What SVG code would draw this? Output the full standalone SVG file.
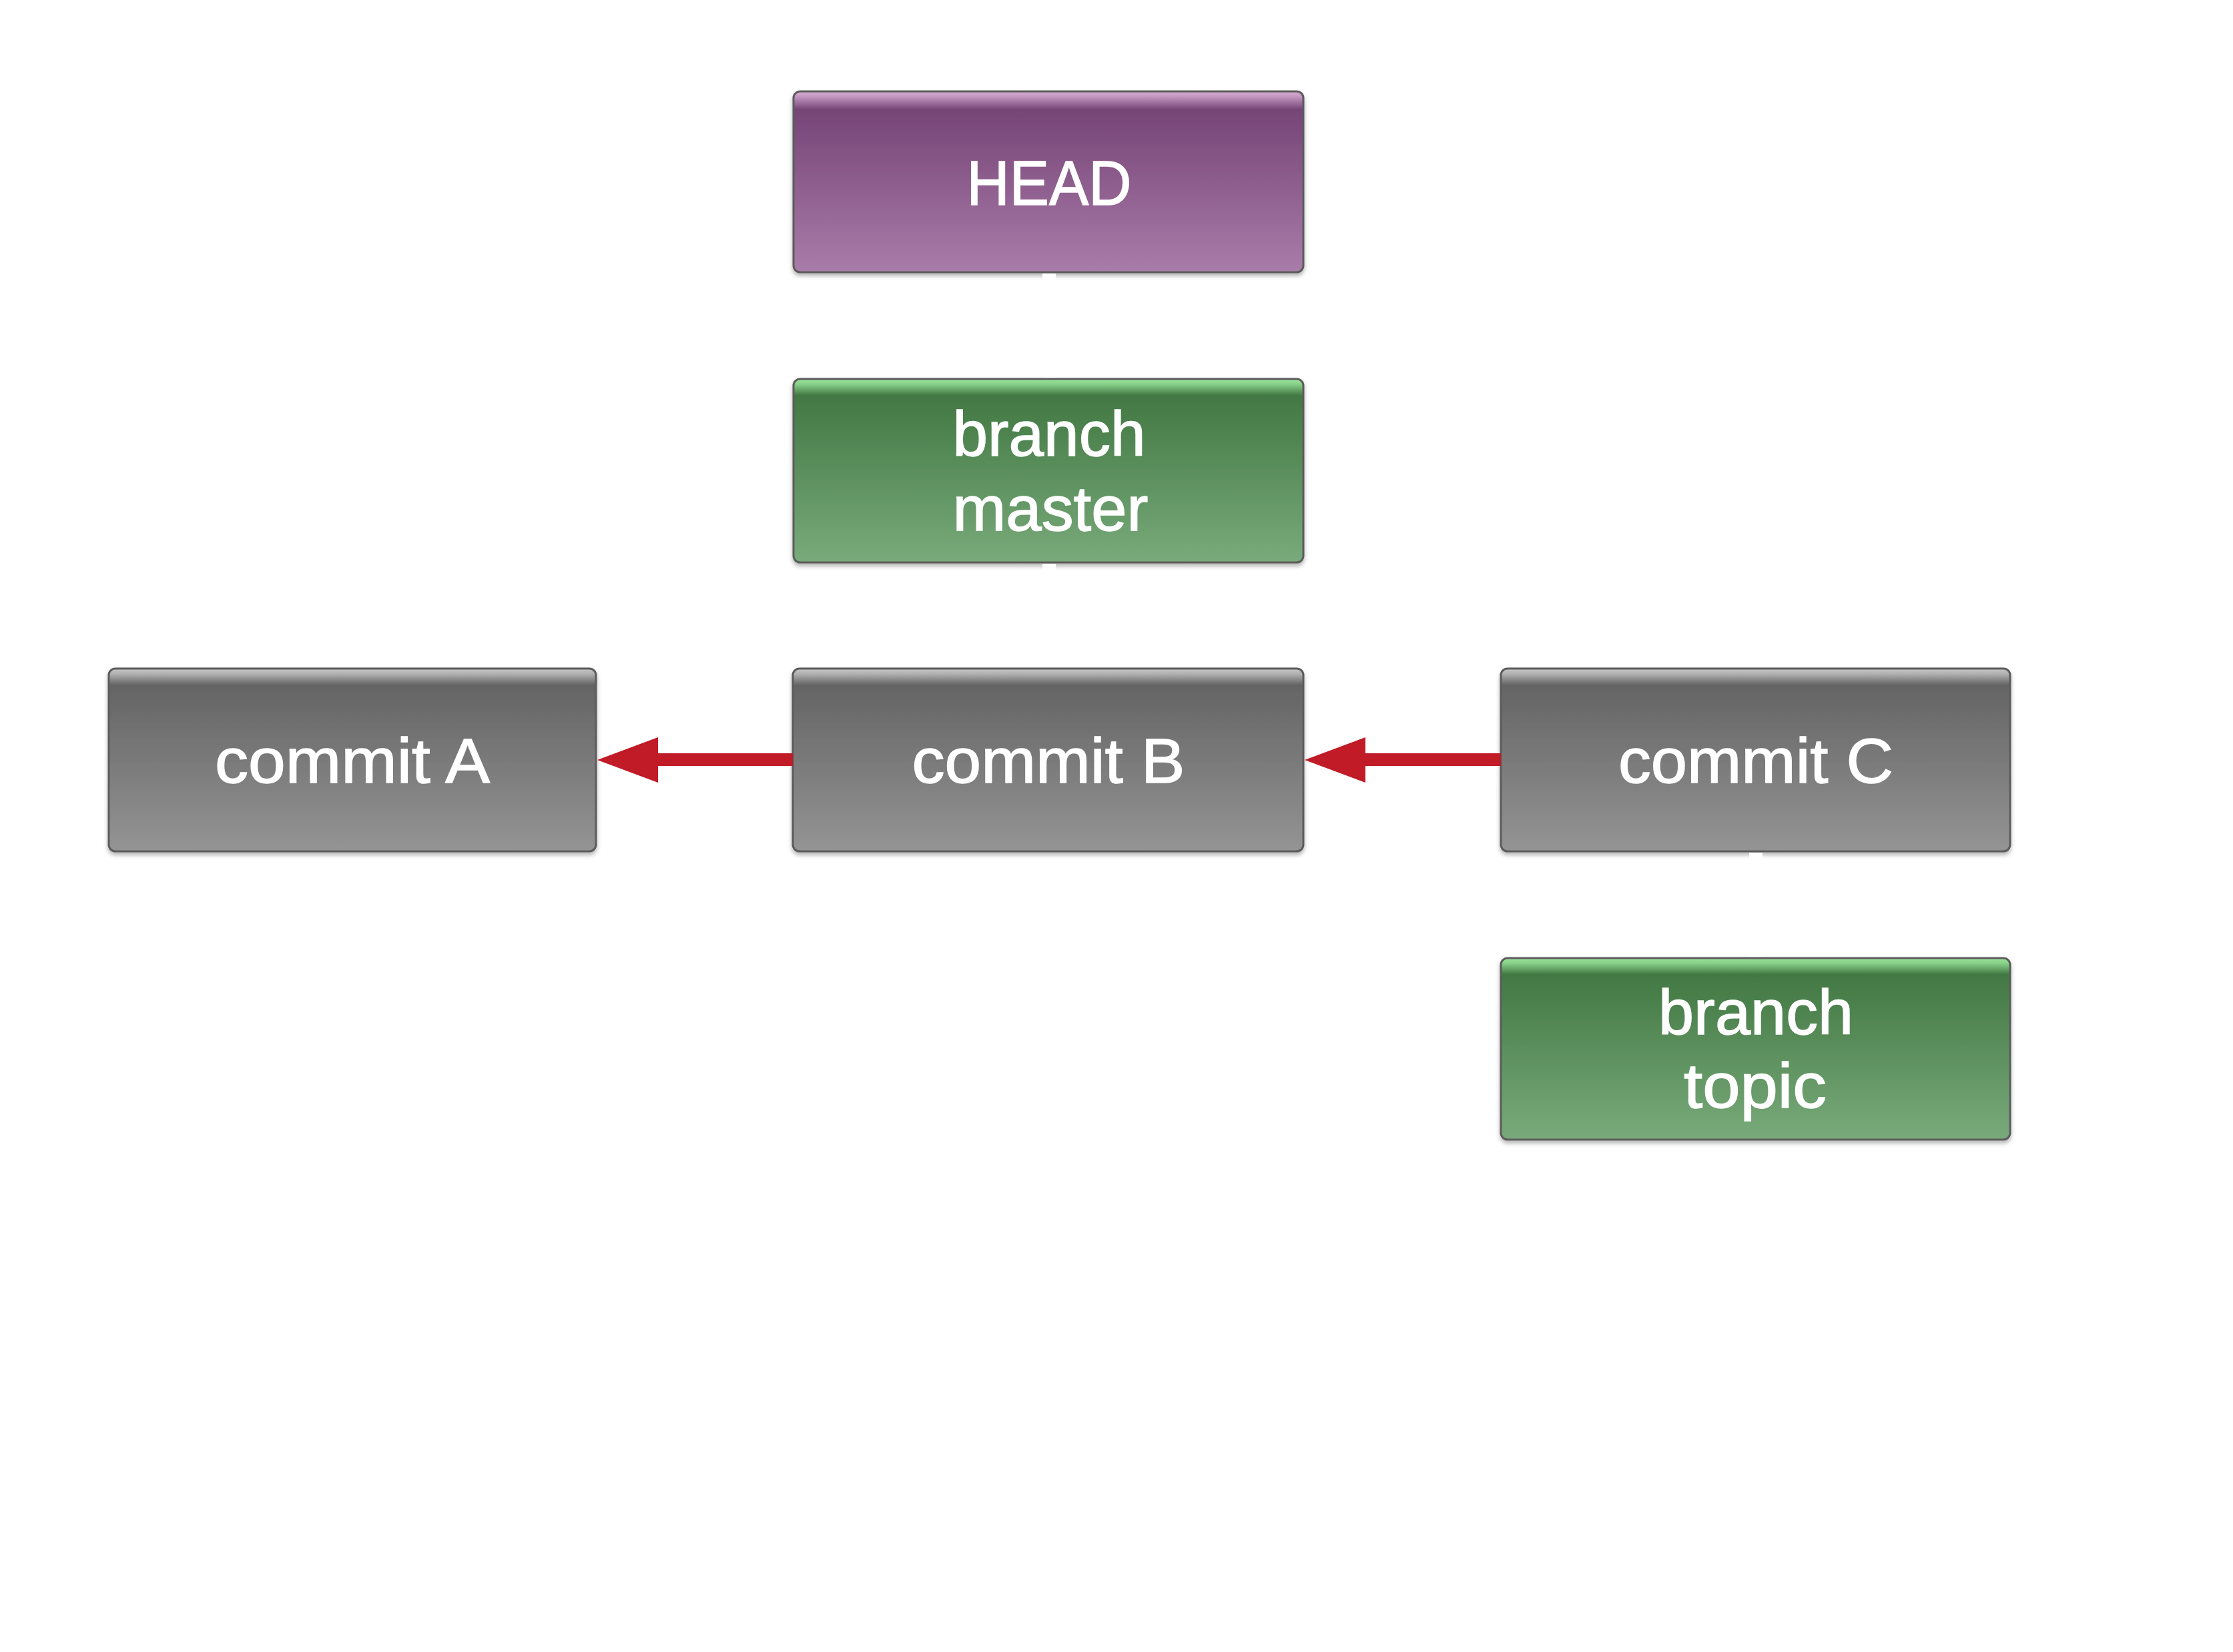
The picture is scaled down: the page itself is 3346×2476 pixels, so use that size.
<svg xmlns="http://www.w3.org/2000/svg" width="3346" height="2476" viewBox="0 0 3346 2476">
  <defs>
    <linearGradient id="gGrey" x1="0" y1="0" x2="0" y2="1">
      <stop offset="0" stop-color="#c6c6c6"/>
      <stop offset="0.03" stop-color="#b0b0b0"/>
      <stop offset="0.09" stop-color="#646464"/>
      <stop offset="1" stop-color="#949494"/>
    </linearGradient>
    <linearGradient id="gPurple" x1="0" y1="0" x2="0" y2="1">
      <stop offset="0" stop-color="#d8acd4"/>
      <stop offset="0.03" stop-color="#c095bf"/>
      <stop offset="0.1" stop-color="#764577"/>
      <stop offset="1" stop-color="#a97ca9"/>
    </linearGradient>
    <linearGradient id="gGreen" x1="0" y1="0" x2="0" y2="1">
      <stop offset="0" stop-color="#9ae59b"/>
      <stop offset="0.03" stop-color="#86cf88"/>
      <stop offset="0.09" stop-color="#427843"/>
      <stop offset="1" stop-color="#79aa7b"/>
    </linearGradient>
    <filter id="shadow" x="-5%" y="-10%" width="110%" height="125%">
      <feDropShadow dx="0" dy="4" stdDeviation="3" flood-color="#000" flood-opacity="0.3"/>
    </filter>
  </defs>
  <style>
    .box { stroke: #5c5c5c; stroke-width: 3; filter: url(#shadow); }
    .grey { fill: url(#gGrey); }
    .purple { fill: url(#gPurple); }
    .green { fill: url(#gGreen); }
    .lbl { font-family: "Liberation Sans", Arial, Helvetica, sans-serif; font-size: 95px; fill: #ffffff; stroke: #ffffff; stroke-width: 1.5; text-anchor: middle; }
    .arrow { fill: #c01b26; }
    .hidden { stroke: #ffffff; stroke-width: 20; fill: none; }
  </style>
  <rect x="0" y="0" width="3346" height="2476" fill="#ffffff"/>

  <g id="node-head">
    <rect class="box purple" x="1189" y="137" width="764" height="271" rx="10" ry="10"/>
    <text class="lbl" x="1572" y="307" textLength="247" lengthAdjust="spacingAndGlyphs">HEAD</text>
  </g>

  <g id="node-master">
    <rect class="box green" x="1189" y="568" width="764" height="275" rx="10" ry="10"/>
    <text class="lbl" x="1572" y="683" textLength="289" lengthAdjust="spacingAndGlyphs">branch</text>
    <text class="lbl" x="1574" y="795" textLength="293" lengthAdjust="spacingAndGlyphs">master</text>
  </g>

  <g id="node-commit-a">
    <rect class="box grey" x="163" y="1002" width="730" height="274" rx="10" ry="10"/>
    <text class="lbl" x="528" y="1173" textLength="412" lengthAdjust="spacingAndGlyphs">commit A</text>
  </g>

  <g id="node-commit-b">
    <rect class="box grey" x="1188" y="1002" width="765" height="274" rx="10" ry="10"/>
    <text class="lbl" x="1571" y="1173" textLength="409" lengthAdjust="spacingAndGlyphs">commit B</text>
  </g>

  <g id="node-commit-c">
    <rect class="box grey" x="2249" y="1002" width="763" height="274" rx="10" ry="10"/>
    <text class="lbl" x="2631" y="1173" textLength="412" lengthAdjust="spacingAndGlyphs">commit C</text>
  </g>

  <g id="node-topic">
    <rect class="box green" x="2249" y="1436" width="763" height="272" rx="10" ry="10"/>
    <text class="lbl" x="2631" y="1550" textLength="292" lengthAdjust="spacingAndGlyphs">branch</text>
    <text class="lbl" x="2630" y="1660" textLength="214" lengthAdjust="spacingAndGlyphs">topic</text>
  </g>

  <g id="connectors">
    <line class="hidden" x1="1572" y1="410" x2="1572" y2="566"/>
    <line class="hidden" x1="1572" y1="845" x2="1572" y2="1000"/>
    <line class="hidden" x1="2631" y1="1434" x2="2631" y2="1278"/>
    <g id="edge-b-a">
      <rect class="arrow" x="984" y="1129" width="204" height="19"/>
      <polygon class="arrow" points="895,1139 986,1105 986,1173"/>
    </g>
    <g id="edge-c-b">
      <rect class="arrow" x="2044" y="1129" width="205" height="19"/>
      <polygon class="arrow" points="1955,1139 2046,1105 2046,1173"/>
    </g>
  </g>
</svg>
